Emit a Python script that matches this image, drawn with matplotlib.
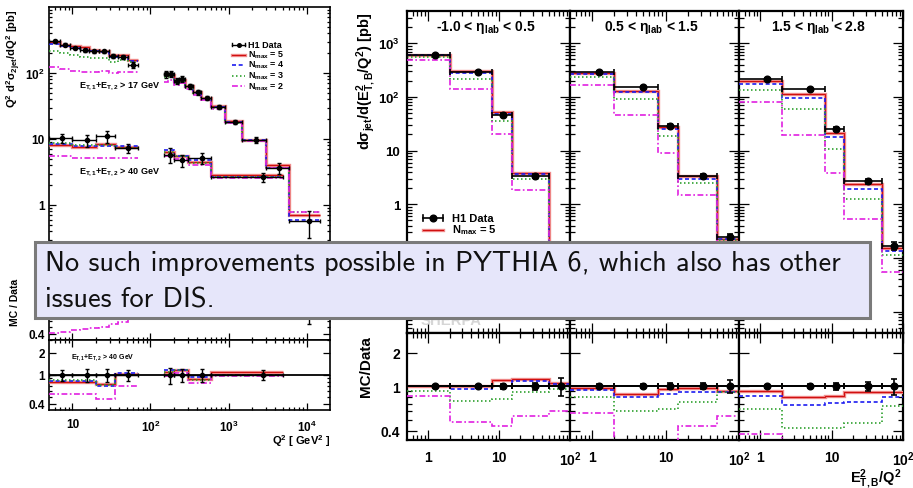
import numpy as np
import matplotlib
matplotlib.use("Agg")
import matplotlib.pyplot as plt
from matplotlib.patches import Rectangle
from matplotlib.lines import Line2D
from matplotlib.ticker import FixedLocator, FixedFormatter, NullFormatter

W, H = 913, 489
plt.rcParams.update({
    "font.family": ["Liberation Sans", "DejaVu Sans"],
    "font.weight": "bold",
    "mathtext.fontset": "custom",
    "mathtext.rm": "Liberation Sans:bold",
    "mathtext.it": "Liberation Sans:bold",
    "mathtext.bf": "Liberation Sans:bold",
    "mathtext.sf": "Liberation Sans:bold",
    "mathtext.default": "rm",
})

# ---------------- dijets vs Q^2 (left) ----------------
q2_edges_17_low = [5, 7, 9.3, 12.4, 16.5, 22, 29, 38.5, 52, 70]
q2_mean_17_low = [5.9, 8.1, 10.7, 14.4, 19, 25, 33.2, 44.6, 60.3]
xsec_17_low = [302, 268, 239, 221, 213, 213, 181, 177, 134]
relerr_17_low = [0.05, 0.05, 0.05, 0.05, 0.05, 0.05, 0.06, 0.07, 0.1]
ratio_17_low = {
    5: [0.97, 1.00, 1.06, 1.12, 1.05, 1.02, 1.02, 1.05, 1.17],
    4: [0.92, 0.95, 1.00, 1.03, 1.00, 0.98, 0.98, 1.02, 1.15],
    3: [0.72, 0.75, 0.78, 0.80, 0.80, 0.80, 0.82, 0.88, 1.08],
    2: [0.41, 0.43, 0.45, 0.47, 0.48, 0.50, 0.55, 0.58, 0.77],
}

q2_edges_17_high = [150, 170, 200, 235, 280, 350, 450, 600, 900, 1500, 3000, 6000, 15000]
q2_mean_17_high = [159, 182, 218, 257, 317, 406, 531, 748, 1202, 2240, 4470, 10670]
xsec_17_high = [96.6, 96.6, 76.4, 82, 62.8, 51, 41.8, 30.5, 18.1, 9.75, 3.64, 0.567]
relerr_17_high = [0.12, 0.1, 0.1, 0.1, 0.08, 0.08, 0.08, 0.08, 0.08, 0.1, 0.2, 0.45]
ratio_17_high = {
    5: [1.00, 0.97, 1.00, 0.97, 1.00, 1.00, 1.00, 1.03, 1.02, 1.00, 1.10, 1.25],
    4: [0.97, 0.94, 0.97, 0.95, 0.97, 0.98, 0.98, 1.00, 1.00, 0.98, 1.00, 1.06],
    3: [0.90, 0.90, 0.92, 0.92, 0.95, 0.96, 0.96, 0.98, 0.98, 0.97, 1.00, 1.38],
    2: [0.76, 0.80, 0.85, 0.86, 0.90, 0.92, 0.93, 0.95, 0.96, 0.97, 1.00, 1.38],
}

q2_edges_40_low = [5, 10, 20, 35, 70]
q2_mean_40_low = [7.4, 15.2, 27.4, 52]
xsec_40_low = [10.3, 9.55, 11.0, 7.3]
relerr_40_low = [0.17, 0.2, 0.2, 0.17]
ratio_40_low = {
    5: [0.79, 0.79, 0.76, 1.04],
    4: [0.82, 0.82, 0.71, 1.07],
    3: [0.85, 0.84, 0.73, 1.00],
    2: [0.54, 0.54, 0.47, 0.71],
}

q2_edges_40_high = [150, 200, 300, 600, 5000]
q2_mean_40_high = [180, 252, 456, 2800]
xsec_40_high = [5.8, 4.75, 5.15, 2.66]
relerr_40_high = [0.25, 0.2, 0.2, 0.15]
ratio_40_high = {
    5: [1.08, 1.18, 0.87, 1.08],
    4: [1.16, 1.18, 0.93, 1.00],
    3: [1.10, 1.16, 0.85, 1.00],
    2: [0.95, 1.05, 0.78, 0.96],
}

# ---------------- jets vs E_T,B^2/Q^2 in eta_lab bins (right) ----------------
eb_edges = [0.5, 2, 8, 15, 50, 100]
eb_mean = [1.24, 5.0, 11.5, 32, 75]
eta_titles = [r"-1.0 < $\eta_{lab}$ < 0.5", r"0.5 < $\eta_{lab}$ < 1.5", r"1.5 < $\eta_{lab}$ < 2.8"]
xsec_eta = [
    [600, 296, 47, 3.37, 0.15],
    [289, 152, 29.4, 3.4, 0.25],
    [217, 140, 25.5, 2.68, 0.17],
]
relerr_eta = [
    [0.03, 0.03, 0.05, 0.08, 0.18],
    [0.04, 0.04, 0.06, 0.06, 0.13],
    [0.03, 0.04, 0.07, 0.09, 0.17],
]
ratio_eta = [
    {5: [1.01, 1.01, 1.13, 1.16, 1.07], 4: [1.00, 0.95, 1.01, 1.11, 1.05],
     3: [0.91, 0.74, 0.77, 0.88, 0.95], 2: [0.81, 0.48, 0.44, 0.54, 0.595]},
    {5: [0.97, 0.86, 0.95, 0.97, 0.91], 4: [0.92, 0.80, 0.85, 0.89, 0.89],
     3: [0.80, 0.60, 0.63, 0.72, 0.88], 2: [0.58, 0.31, 0.31, 0.44, 0.54]},
    {5: [0.91, 0.80, 0.82, 0.89, 0.89], 4: [0.82, 0.68, 0.71, 0.72, 0.80],
     3: [0.62, 0.42, 0.42, 0.47, 0.67], 2: [0.37, 0.14, 0.15, 0.20, 0.32]},
]

legend_labels = {5: r"$N_{max}$ = 5", 4: r"$N_{max}$ = 4", 3: r"$N_{max}$ = 3", 2: r"$N_{max}$ = 2"}

STYLE = {
    5: [dict(color="#f08c8c", lw=2.4, ls="-"), dict(color="#d01010", lw=0.8, ls="-")],
    4: [dict(color="#1c1cf0", lw=1.2, ls=(0, (2.4, 1.6)))],
    3: [dict(color="#2ca02c", lw=1.2, ls=(0, (0.9, 1.5)))],
    2: [dict(color="#e020e0", lw=1.2, ls=(0, (3.5, 1.5, 1.0, 1.5)))],
}
ORDER = [5, 4, 3, 2]

fig = plt.figure(figsize=(W / 100, H / 100), dpi=100)


def fx(x):
    return x / W


def fy(y):
    return 1 - y / H


def add_ax(x0, y0, x1, y1):
    ax = fig.add_axes([x0 / W, 1 - y1 / H, (x1 - x0) / W, (y1 - y0) / H])
    ax.set_xscale("log")
    ax.set_yscale("log")
    return ax


def minor_ticks(lo, hi):
    out = []
    for e in range(int(np.floor(np.log10(lo))) - 1, int(np.ceil(np.log10(hi))) + 1):
        for m in range(2, 10):
            v = m * 10.0 ** e
            if lo * 1.0001 <= v <= hi / 1.0001:
                out.append(v)
    return out


def setup(ax, xlim, ylim, xmaj, xlab, ymaj, ylab, ymin=None, fs=8, spine=1.2,
          majlen=5, minlen=2.5, xpad=4, ypad=3):
    ax.set_xlim(*xlim)
    ax.set_ylim(*ylim)
    ax.xaxis.set_major_locator(FixedLocator(xmaj))
    ax.xaxis.set_minor_locator(FixedLocator(minor_ticks(*xlim)))
    ax.yaxis.set_major_locator(FixedLocator(ymaj))
    ax.yaxis.set_minor_locator(FixedLocator(ymin if ymin is not None else minor_ticks(*ylim)))
    ax.xaxis.set_major_formatter(FixedFormatter(xlab) if xlab else NullFormatter())
    ax.yaxis.set_major_formatter(FixedFormatter(ylab) if ylab else NullFormatter())
    ax.xaxis.set_minor_formatter(NullFormatter())
    ax.yaxis.set_minor_formatter(NullFormatter())
    ax.tick_params(which="both", direction="in", top=True, right=True, width=0.9, labelsize=fs)
    ax.tick_params(which="major", length=majlen)
    ax.tick_params(which="minor", length=minlen)
    ax.tick_params(axis="x", pad=xpad)
    ax.tick_params(axis="y", pad=ypad)
    for s in ax.spines.values():
        s.set_linewidth(spine)


def draw_mc(ax, edges, values, n):
    for st in STYLE[n]:
        ax.stairs(values, edges, baseline=None, zorder=3, **st)


def draw_data(ax, edges, mean, vals, err, ms, cap, lw):
    e = np.asarray(edges, float)
    m = np.asarray(mean, float)
    v = np.asarray(vals, float)
    xe = [m - e[:-1], e[1:] - m]
    ax.errorbar(m, v, xerr=xe, yerr=v * np.asarray(err), fmt="o", color="k", ms=ms,
                elinewidth=lw, capsize=cap, capthick=lw, zorder=6)


# ---------------- left figure ----------------
axL = add_ax(49, 8, 330, 272)
axL1 = add_ax(49, 272, 330, 341)
axL2 = add_ax(49, 341, 330, 411)

q2_lim = (5, 2e4)
q2_maj = [10, 100, 1000, 10000]
q2_lab = ["10", r"$10^2$", r"$10^3$", r"$10^4$"]
setup(axL, q2_lim, (0.1, 1000), q2_maj, None, [1, 10, 100], ["1", "10", r"$10^2$"], fs=8.5)
rmin = [0.5, 0.6, 0.7, 0.8, 0.9, 3]
setup(axL1, q2_lim, (0.33, 3.0), q2_maj, None, [0.4, 1, 2], ["0.4", "1", "2"], ymin=rmin, fs=8.5)
setup(axL2, q2_lim, (0.33, 3.0), q2_maj, q2_lab, [0.4, 1, 2], ["0.4", "1", "2"], ymin=rmin,
      fs=8.5, xpad=6)

left_sets = [
    (q2_edges_17_low, q2_mean_17_low, xsec_17_low, relerr_17_low, ratio_17_low, axL1),
    (q2_edges_17_high, q2_mean_17_high, xsec_17_high, relerr_17_high, ratio_17_high, axL1),
    (q2_edges_40_low, q2_mean_40_low, xsec_40_low, relerr_40_low, ratio_40_low, axL2),
    (q2_edges_40_high, q2_mean_40_high, xsec_40_high, relerr_40_high, ratio_40_high, axL2),
]
for edges, mean, vals, err, ratios, axr in left_sets:
    for n in ORDER:
        r = np.asarray(ratios[n])
        draw_mc(axL, edges, np.asarray(vals) * r, n)
        draw_mc(axr, edges, r, n)
    draw_data(axL, edges, mean, vals, err, 3.0, 1.2, 1.0)
    draw_data(axr, edges, mean, np.ones(len(vals)), err, 3.0, 1.2, 1.0)
for axr in (axL1, axL2):
    axr.axhline(1.0, color="k", lw=1.3, zorder=4)

fig.text(fx(14), fy(10), r"$Q^2\ d^2\sigma_{2jet}/dQ^2$ [pb]", rotation=90, ha="center",
         va="top", fontsize=8)
fig.text(fx(15), fy(302), "MC / Data", rotation=90, ha="center", va="center", fontsize=7.5)
fig.text(fx(330), fy(441), r"$Q^2$ [ GeV$^2$ ]", ha="right", va="center", fontsize=8)
fig.text(fx(79), fy(86), r"$E_{T,1}$+$E_{T,2}$ > 17 GeV", ha="left", va="center", fontsize=6.5)
fig.text(fx(79), fy(172), r"$E_{T,1}$+$E_{T,2}$ > 40 GeV", ha="left", va="center", fontsize=6.5)
fig.text(fx(71), fy(358), r"$E_{T,1}$+$E_{T,2}$ > 40 GeV", ha="left", va="center", fontsize=5)


def legend_entries(x0, x1, xt, ys, fs, ms, cap, lw, models):
    y = ys[0]
    fig.add_artist(Line2D([fx(x0), fx(x1)], [fy(y), fy(y)], color="k", lw=lw,
                          transform=fig.transFigure))
    fig.add_artist(Line2D([fx((x0 + x1) / 2)], [fy(y)], color="k", marker="o", ms=ms,
                          transform=fig.transFigure))
    for xc in (x0, x1):
        fig.add_artist(Line2D([fx(xc), fx(xc)], [fy(y - cap), fy(y + cap)], color="k", lw=lw,
                              transform=fig.transFigure))
    fig.text(fx(xt), fy(y), "H1 Data", ha="left", va="center", fontsize=fs)
    for n, yy in zip(models, ys[1:]):
        for st in STYLE[n]:
            fig.add_artist(Line2D([fx(x0), fx(x1)], [fy(yy), fy(yy)], transform=fig.transFigure,
                                  **st))
        fig.text(fx(xt), fy(yy), legend_labels[n], ha="left", va="center", fontsize=fs)


legend_entries(232, 245, 248, [45.5, 55.5, 65.7, 76.5, 87], 6.5, 2.6, 1.6, 1.0, ORDER)

# ---------------- right figure ----------------
xs_panels = [(407, 570), (570, 739), (739, 903)]
eb_lim = (0.5, 100)
eb_maj = [1, 10, 100]
eb_lab = ["1", "10", r"$10^2$"]
for i, (x0, x1) in enumerate(xs_panels):
    axm = add_ax(x0, 12, x1, 334)
    axr = add_ax(x0, 334, x1, 441)
    first = i == 0
    setup(axm, eb_lim, (0.004, 4000), eb_maj, None, [0.01, 0.1, 1, 10, 100, 1000],
          ["", "", "1", "10", r"$10^2$", r"$10^3$"] if first else None,
          fs=9.5, spine=1.6, majlen=7, minlen=3.5, ypad=5)
    setup(axr, eb_lim, (0.33, 3.0), eb_maj, eb_lab, [0.4, 1, 2],
          ["0.4", "1", "2"] if first else None, ymin=rmin,
          fs=10, spine=1.6, majlen=7, minlen=3.5, xpad=7, ypad=5)
    vals = np.asarray(xsec_eta[i])
    for n in ORDER:
        r = np.asarray(ratio_eta[i][n])
        draw_mc(axm, eb_edges, vals * r, n)
        draw_mc(axr, eb_edges, r, n)
    draw_data(axm, eb_edges, eb_mean, vals, relerr_eta[i], 4.8, 2.0, 1.2)
    draw_data(axr, eb_edges, eb_mean, np.ones(5), relerr_eta[i], 4.8, 2.0, 1.2)
    axr.axhline(1.0, color="k", lw=1.4, zorder=4)
    fig.text(fx((x0 + x1) / 2 - 3), fy(27), eta_titles[i], ha="center", va="center", fontsize=10)

fig.text(fx(366), fy(13), r"d$\sigma_{jet}$/d($E^2_{T,B}$/$Q^2$) [pb]", rotation=90,
         ha="center", va="top", fontsize=10.5)
fig.text(fx(366), fy(367), "MC/Data", rotation=90, ha="center", va="center", fontsize=11)
fig.text(fx(901), fy(479), r"$E^2_{T,B}$/$Q^2$", ha="right", va="center", fontsize=10.5)

legend_entries(423, 443, 452, [219, 230.5], 8, 4.8, 2.6, 1.2, [5])
fig.text(fx(421), fy(325), "SHERPA", ha="left", va="baseline", fontsize=10.7, color="#d6d6d6")

# ---------------- overlay note ----------------
fig.add_artist(Rectangle((fx(35), fy(319)), fx(870) - fx(35), fy(243) - fy(319),
                         transform=fig.transFigure, facecolor="#e6e6fa", edgecolor="#7a7a7a",
                         lw=2.2, zorder=10))
note_font = dict(family=["cmss10", "DejaVu Sans"], fontsize=20.4, fontweight="normal",
                 color="#111111", zorder=11, ha="left", va="baseline")
fig.text(fx(45), fy(271.5), "No such improvements possible in PYTHIA 6, which also has other",
         **note_font)
fig.text(fx(45), fy(307.5), "issues for DIS.", **note_font)

fig.savefig("out.png", dpi=100)
